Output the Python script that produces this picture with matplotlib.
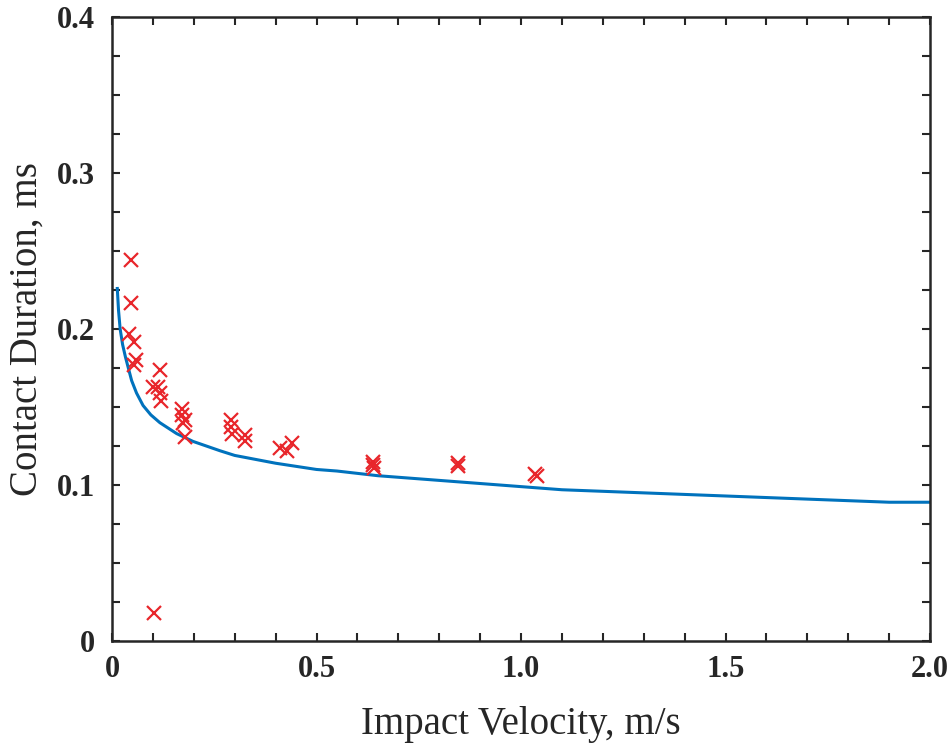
import numpy as np
import matplotlib
matplotlib.use('Agg')
import matplotlib.pyplot as plt
from matplotlib.ticker import MultipleLocator

# measured points
vel = [0.046, 0.046, 0.042, 0.054, 0.059, 0.054, 0.118, 0.101, 0.112, 0.117, 0.121,
       0.170, 0.170, 0.178, 0.174, 0.178, 0.290, 0.290, 0.294, 0.325, 0.325,
       0.411, 0.428, 0.440, 0.639, 0.639, 0.640, 0.846, 0.846, 1.034, 1.039, 0.103]
dur = [0.244, 0.217, 0.197, 0.192, 0.180, 0.177, 0.174, 0.163, 0.163, 0.159, 0.154,
       0.149, 0.145, 0.142, 0.140, 0.131, 0.142, 0.137, 0.133, 0.132, 0.128,
       0.124, 0.122, 0.127, 0.115, 0.113, 0.111, 0.114, 0.112, 0.107, 0.106, 0.018]

# model curve
v_fit = [0.013, 0.016, 0.020, 0.026, 0.033, 0.040, 0.048, 0.060, 0.076, 0.095, 0.117,
         0.158, 0.198, 0.264, 0.30, 0.40, 0.50, 0.55, 0.65, 0.80, 1.00, 1.10,
         1.40, 1.70, 1.90, 2.00]
t_fit = [0.226, 0.212, 0.200, 0.190, 0.182, 0.175, 0.167, 0.159, 0.151, 0.145, 0.140,
         0.133, 0.128, 0.122, 0.119, 0.114, 0.110, 0.109, 0.106, 0.103, 0.099, 0.097,
         0.094, 0.091, 0.089, 0.089]

xticks = [0, 0.5, 1.0, 1.5, 2.0]
xlabels = ['0', '0.5', '1.0', '1.5', '2.0']
yticks = [0, 0.1, 0.2, 0.3, 0.4]
ylabels = ['0', '0.1', '0.2', '0.3', '0.4']

plt.rcParams['font.family'] = ['Liberation Serif', 'DejaVu Serif']

fig = plt.figure(figsize=(9.53, 7.56), dpi=100)
ax = fig.add_axes([0.1175, 0.152, 0.8585, 0.8255])

ax.plot(v_fit, t_fit, color='#0072bd', lw=2.2)
ax.plot(vel, dur, 'x', color='#e8262b', ms=10, mew=1.6)

ax.set_xlim(0, 2.0)
ax.set_ylim(0, 0.4)
ax.set_xticks(xticks)
ax.set_xticklabels(xlabels)
ax.set_yticks(yticks)
ax.set_yticklabels(ylabels)
ax.xaxis.set_minor_locator(MultipleLocator(0.1))
ax.yaxis.set_minor_locator(MultipleLocator(0.025))
ax.tick_params(which='both', direction='in', top=True, right=True,
               length=6, width=1.5, color='#262626')
ax.tick_params(which='major', labelsize=22, pad=10)
ax.tick_params(axis='y', which='major', pad=12)
for lab in ax.get_xticklabels() + ax.get_yticklabels():
    lab.set_fontweight('bold')
    lab.set_color('#262626')
for s in ax.spines.values():
    s.set_linewidth(1.8)
    s.set_color('#262626')

ax.set_xlabel('Impact Velocity, m/s', fontsize=28, color='#262626', labelpad=16)
ax.set_ylabel('Contact Duration, ms', fontsize=28, color='#262626', labelpad=8)

fig.savefig('out.png', dpi=100)
